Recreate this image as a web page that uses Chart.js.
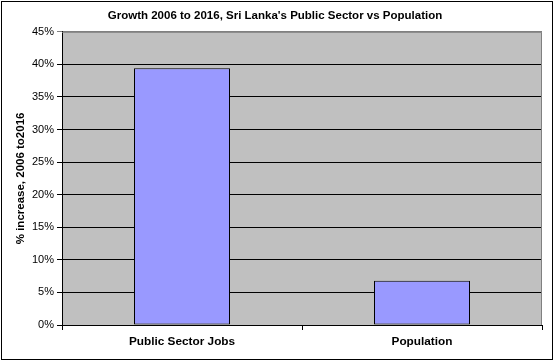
<!DOCTYPE html>
<html lang="en">
<head>
    <meta charset="UTF-8">
    <title>Growth 2006 to 2016</title>
    <style>
        body { margin: 0; background: #fff; }
        #wrap { width: 554px; height: 361px; }
    </style>
</head>
<body>
    <div id="wrap"><canvas id="growthChart" width="554" height="361"></canvas></div>
    <script src="https://cdn.jsdelivr.net/npm/chart.js"></script>
    <script>
        const categories = ['Public Sector Jobs', 'Population'];
        const growthValues = [39.4, 6.8];
        const yTicks = [0, 5, 10, 15, 20, 25, 30, 35, 40, 45];

        const font = 'Arial, "Liberation Sans", sans-serif';

        // grey plot area + outer frame, like the old excel look
        const frame = {
            id: 'frame',
            beforeDraw(chart) {
                const c = chart.ctx, a = chart.chartArea;
                c.save();
                c.fillStyle = '#fff';
                c.fillRect(0, 0, chart.width, chart.height);
                c.fillStyle = '#c0c0c0';
                c.fillRect(a.left, a.top, a.right - a.left, a.bottom - a.top);
                c.restore();
            },
            afterDraw(chart) {
                const c = chart.ctx, a = chart.chartArea;
                c.save();
                c.strokeStyle = '#808080';
                c.lineWidth = 1;
                c.beginPath();
                c.moveTo(a.left, a.top + 0.5);
                c.lineTo(a.right - 0.5, a.top + 0.5);
                c.lineTo(a.right - 0.5, a.bottom);
                c.stroke();
                c.strokeStyle = '#000';
                c.strokeRect(1.5, 1.5, chart.width - 3, chart.height - 3);
                c.restore();
            }
        };

        new Chart(document.getElementById('growthChart'), {
            type: 'bar',
            data: {
                labels: categories,
                datasets: [{
                    data: growthValues,
                    backgroundColor: '#9999ff',
                    borderColor: '#000',
                    borderWidth: 1,
                    borderSkipped: false,
                    categoryPercentage: 0.4,
                    barPercentage: 1
                }]
            },
            options: {
                responsive: false,
                animation: false,
                layout: { padding: { left: 8, right: 12, top: 0, bottom: 0 } },
                plugins: {
                    legend: { display: false },
                    tooltip: { enabled: false },
                    title: {
                        display: true,
                        text: "Growth 2006 to 2016, Sri Lanka's Public Sector vs Population",
                        color: '#000',
                        font: { family: font, size: 11.5, weight: 'bold' },
                        padding: { top: 9, bottom: 9 }
                    }
                },
                scales: {
                    x: {
                        afterFit: s => { s.height = 36; },
                        grid: {
                            offset: true,
                            drawOnChartArea: false,
                            drawTicks: true,
                            tickLength: 5,
                            color: '#000'
                        },
                        border: { color: '#000' },
                        ticks: {
                            color: '#000',
                            padding: 5,
                            font: { family: font, size: 11.8, weight: 'bold' }
                        }
                    },
                    y: {
                        min: 0,
                        max: 45,
                        afterFit: s => { s.width = 54; },
                        afterBuildTicks: s => { s.ticks = yTicks.map(v => ({ value: v })); },
                        grid: {
                            color: ctx => ctx.tick && ctx.tick.value === 45 ? '#808080' : '#000',
                            tickLength: 5
                        },
                        border: { color: '#000' },
                        ticks: {
                            color: '#000',
                            padding: 3,
                            font: { family: font, size: 11 },
                            callback: v => v + '%'
                        },
                        title: {
                            display: true,
                            text: '% increase, 2006 to2016',
                            color: '#000',
                            font: { family: font, size: 11.5, weight: 'bold' },
                            padding: { top: 6, bottom: 4 }
                        }
                    }
                }
            },
            plugins: [frame]
        });
    </script>
</body>
</html>
